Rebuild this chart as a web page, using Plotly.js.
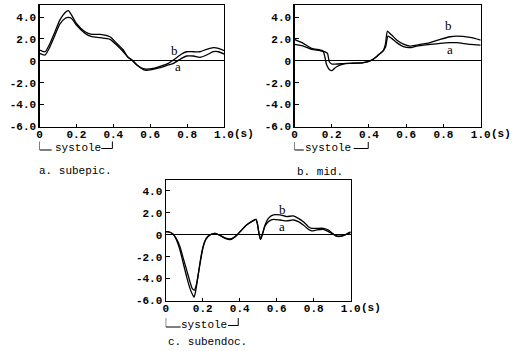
<!DOCTYPE html>
<html>
<head>
<meta charset="utf-8">
<script src="https://cdn.plot.ly/plotly-3.0.1.min.js"></script>
<style>
html,body{margin:0;padding:0;background:#fff;}
#chart{width:513px;height:351px;}
</style>
</head>
<body>
<div id="chart"></div>
<script>
// ---------- data ----------
const yTickVals = [-6, -4, -2, 0, 2, 4];
const yTickText = ["-6.0", "-4.0", "-2.0", "0", "2.0", "4.0"];
const xTickVals = [0, 0.2, 0.4, 0.6, 0.8, 1.0];
const xTickText = ["0", "0.2", "0.4", "0.6", "0.8", "1.0"];
const panelCaptions = ["a. subepic.", "b. mid.", "c. subendoc."];
const systoleLabel = "systole";
const unitLabel = "(s)";
const curveNames = ["a", "b"];

// a. subepicardial
const subepicX = [0, 0.03, 0.057, 0.084, 0.11, 0.138, 0.156, 0.174, 0.2, 0.247, 0.283, 0.328, 0.382, 0.418, 0.454, 0.48, 0.5, 0.527, 0.563, 0.58, 0.608, 0.653, 0.698, 0.726, 0.77, 0.797, 0.834, 0.87, 0.906, 0.942, 0.97, 1.0];
const subepicB = [0.99, 0.83, 1.6, 2.66, 3.72, 4.39, 4.58, 4.18, 3.42, 2.66, 2.42, 2.42, 2.2, 1.6, 0.99, 0.32, 0.07, -0.38, -0.72, -0.76, -0.72, -0.5, -0.23, 0.07, 0.62, 0.83, 0.83, 0.83, 1.05, 1.2, 1.14, 0.93];
const subepicA = [0.68, 0.53, 1.3, 2.36, 3.36, 3.87, 3.97, 3.87, 3.27, 2.51, 2.2, 2.11, 1.96, 1.44, 0.83, 0.32, 0.1, -0.35, -0.8, -0.86, -0.8, -0.63, -0.38, -0.23, 0.23, 0.44, 0.44, 0.32, 0.53, 0.83, 0.83, 0.62];

// b. mid-wall
const midXb = [0, 0.047, 0.092, 0.137, 0.16, 0.177, 0.187, 0.2, 0.226, 0.262, 0.3, 0.37, 0.415, 0.45, 0.477, 0.488, 0.499, 0.51, 0.522, 0.549, 0.585, 0.62, 0.656, 0.728, 0.782, 0.836, 0.87, 0.943, 1.0];
const midB = [1.96, 1.6, 1.14, 0.99, 0.85, 0.68, -0.08, -0.29, -0.29, -0.25, -0.23, -0.17, 0.07, 0.53, 0.93, 1.5, 2.72, 2.55, 2.36, 1.9, 1.53, 1.35, 1.44, 1.66, 1.96, 2.2, 2.26, 2.14, 1.9];
const midXa = [0, 0.047, 0.092, 0.137, 0.155, 0.173, 0.19, 0.2, 0.226, 0.262, 0.3, 0.37, 0.415, 0.45, 0.477, 0.49, 0.502, 0.522, 0.549, 0.585, 0.62, 0.656, 0.728, 0.782, 0.836, 0.87, 0.943, 1.0];
const midA = [1.5, 1.35, 1.05, 0.93, 0.83, -0.38, -0.84, -0.9, -0.54, -0.29, -0.23, -0.17, 0.07, 0.53, 0.93, 1.3, 2.26, 2.05, 1.66, 1.29, 1.2, 1.35, 1.5, 1.6, 1.66, 1.66, 1.5, 1.44];

// c. subendocardial
const subendoXa = [0, 0.023, 0.041, 0.059, 0.077, 0.095, 0.113, 0.131, 0.146, 0.153, 0.16, 0.17, 0.18, 0.19, 0.2, 0.21, 0.22, 0.235, 0.249, 0.267, 0.294, 0.32, 0.348, 0.375, 0.402, 0.437, 0.473, 0.488, 0.495, 0.506, 0.513, 0.524, 0.537, 0.555, 0.582, 0.618, 0.654, 0.69, 0.717, 0.744, 0.771, 0.789, 0.816, 0.852, 0.879, 0.906, 0.924, 0.951, 0.978, 1.0];
const subendoA = [0.29, 0.23, 0.04, -0.5, -1.39, -2.6, -3.82, -4.89, -5.5, -5.7, -5.3, -4.3, -3.2, -2.2, -1.3, -0.7, -0.35, -0.1, 0.07, 0.13, -0.08, -0.32, -0.45, -0.2, 0.27, 0.89, 1.29, 1.41, 1.05, -0.02, -0.41, 0.13, 0.8, 1.2, 1.41, 1.35, 1.26, 1.35, 1.2, 0.89, 0.5, 0.35, 0.44, 0.5, 0.29, 0.05, -0.13, -0.13, 0.05, 0.2];
const subendoXb = [0, 0.023, 0.041, 0.059, 0.077, 0.095, 0.113, 0.131, 0.143, 0.155, 0.165, 0.175, 0.185, 0.195, 0.205, 0.215, 0.225, 0.235, 0.249, 0.267, 0.294, 0.32, 0.348, 0.375, 0.402, 0.437, 0.473, 0.488, 0.495, 0.506, 0.513, 0.524, 0.537, 0.555, 0.582, 0.618, 0.654, 0.69, 0.717, 0.744, 0.771, 0.789, 0.816, 0.852, 0.879, 0.906, 0.924, 0.951, 0.978, 1.0];
const subendoB = [0.29, 0.23, 0.04, -0.4, -1.08, -2.15, -3.2, -4.28, -4.9, -5.05, -4.6, -3.7, -2.6, -1.6, -0.9, -0.45, -0.2, -0.05, 0.07, 0.13, -0.05, -0.28, -0.38, -0.15, 0.29, 0.89, 1.29, 1.41, 1.05, -0.02, -0.41, 0.13, 0.89, 1.5, 1.81, 1.81, 1.66, 1.72, 1.5, 1.2, 0.74, 0.59, 0.59, 0.59, 0.44, 0.07, -0.11, -0.11, 0.07, 0.26];

// ---------- layout helpers ----------
const W = 513, H = 351;
const px = v => v / W;
const py = v => 1 - v / H;

const panels = [
  {l: 39.5, r: 224, t: 5, b: 126.5, yr: [-6, 5.1], ax: '', ay: ''},
  {l: 294.5, r: 480.7, t: 5, b: 126.5, yr: [-6, 5.1], ax: '2', ay: '2'},
  {l: 165.7, r: 350.7, t: 180, b: 300.5, yr: [-6, 5.0], ax: '3', ay: '3'}
];

const MONO = '"Liberation Mono"';
const xTickFont = {family: MONO, size: 11, color: '#000', weight: 'bold'};
const yTickFont = {family: MONO, size: 11, color: '#000', weight: 'bold'};
const textFont = {family: MONO, size: 11, color: '#000'};
const labelFont = {family: '"Liberation Serif"', size: 13, color: '#000'};

const lineStyle = {color: '#000', width: 1.3, shape: 'spline', smoothing: 0.6};
function tr(x, y, i) {
  const p = panels[i];
  return {x: x, y: y, type: 'scatter', mode: 'lines', line: lineStyle,
          xaxis: 'x' + p.ax, yaxis: 'y' + p.ay, hoverinfo: 'skip', showlegend: false};
}

const data = [
  tr(subepicX, subepicA, 0), tr(subepicX, subepicB, 0),
  tr(midXa, midA, 1), tr(midXb, midB, 1),
  tr(subendoXa, subendoA, 2), tr(subendoXb, subendoB, 2)
];

const layout = {
  width: W, height: H,
  margin: {l: 0, r: 0, t: 0, b: 0},
  paper_bgcolor: '#fff', plot_bgcolor: '#fff',
  showlegend: false,
  annotations: [], shapes: []
};

panels.forEach((p, i) => {
  layout['xaxis' + p.ax] = {
    domain: [px(p.l), px(p.r)], range: [0, 1.0], anchor: 'y' + p.ay,
    tickvals: xTickVals, ticktext: xTickText, tickfont: xTickFont,
    ticks: 'inside', ticklen: 3, tickcolor: '#000', tickwidth: 1,
    showline: true, linecolor: '#000', linewidth: 1.2, mirror: true,
    showgrid: false, zeroline: false, fixedrange: true, ticklabelstandoff: -3
  };
  layout['yaxis' + p.ay] = {
    domain: [py(p.b), py(p.t)], range: p.yr, anchor: 'x' + p.ax,
    tickvals: yTickVals, ticktext: yTickText, tickfont: yTickFont,
    ticks: 'inside', ticklen: 4, tickcolor: '#000', tickwidth: 1,
    showline: true, linecolor: '#000', linewidth: 1.2, mirror: true,
    showgrid: false, zeroline: true, zerolinecolor: '#000', zerolinewidth: 1,
    fixedrange: true, ticklabelstandoff: 0
  };
});

// curve labels a / b
const curveLabelPos = [
  {b: [0.734, 0.9], a: [0.75, -0.55]},
  {b: [0.826, 3.2], a: [0.835, 1.0]},
  {b: [0.63, 2.35], a: [0.63, 0.75]}
];
panels.forEach((p, i) => {
  ['a', 'b'].forEach(k => {
    layout.annotations.push({
      xref: 'x' + p.ax, yref: 'y' + p.ay, x: curveLabelPos[i][k][0], y: curveLabelPos[i][k][1],
      text: k, showarrow: false, font: labelFont, xanchor: 'center', yanchor: 'middle'
    });
  });
});

// (s) unit after the 1.0 tick label
panels.forEach((p, i) => {
  layout.annotations.push({
    xref: 'paper', yref: 'paper', x: px(p.r + 9), y: py(p.b + 7),
    text: unitLabel, showarrow: false, font: xTickFont, xanchor: 'left', yanchor: 'middle',
    borderpad: 0
  });
});

// systole brackets and captions
const bracket = [
  {yl: 150, yt: 141.5, lh: 0.066, rh0: 0.335, rh1: 0.395, tx: 0.206, ty: 148, cap: [36.5, 171]},
  {yl: 150, yt: 142, lh: 0.05, rh0: 0.318, rh1: 0.396, tx: 0.18, ty: 148, cap: [295, 172]},
  {yl: 327, yt: 318, lh: 0.081, rh0: 0.337, rh1: 0.392, tx: 0.206, ty: 324.5, cap: [165.5, 342]}
];
panels.forEach((p, i) => {
  const bk = bracket[i];
  const xr = 'x' + p.ax;
  const ln = {color: '#000', width: 1};
  layout.shapes.push(
    {type: 'line', xref: xr, yref: 'paper', x0: 0, x1: 0, y0: py(bk.yt), y1: py(bk.yl), line: ln},
    {type: 'line', xref: xr, yref: 'paper', x0: 0, x1: bk.lh, y0: py(bk.yl), y1: py(bk.yl), line: ln},
    {type: 'line', xref: xr, yref: 'paper', x0: bk.rh0, x1: bk.rh1, y0: py(bk.yl - 1.5), y1: py(bk.yl - 1.5), line: ln},
    {type: 'line', xref: xr, yref: 'paper', x0: bk.rh1, x1: bk.rh1, y0: py(bk.yt), y1: py(bk.yl - 1.5), line: ln}
  );
  layout.annotations.push({
    xref: xr, yref: 'paper', x: bk.tx, y: py(bk.ty), text: systoleLabel, showarrow: false,
    font: textFont, xanchor: 'center', yanchor: 'middle', borderpad: 0
  });
  layout.annotations.push({
    xref: 'paper', yref: 'paper', x: px(bk.cap[0]), y: py(bk.cap[1]), text: panelCaptions[i],
    showarrow: false, font: textFont, xanchor: 'left', yanchor: 'middle'
  });
});

Plotly.newPlot('chart', data, layout, {displayModeBar: false, staticPlot: true});
</script>
</body>
</html>
